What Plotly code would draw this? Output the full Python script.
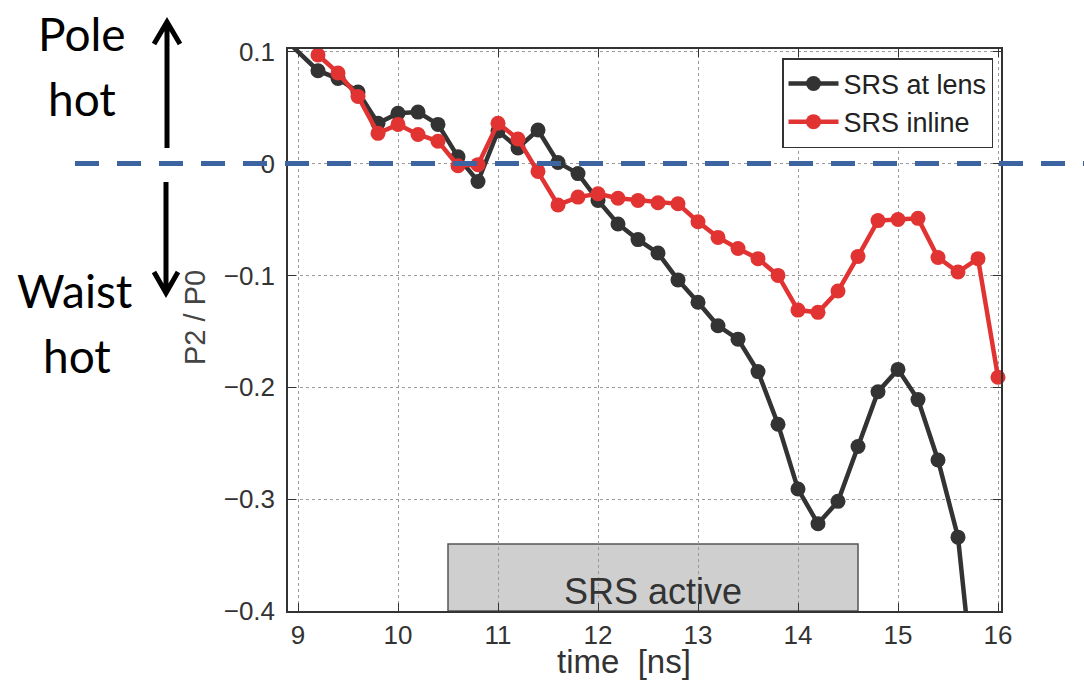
import plotly.graph_objects as go

# ---- data: P2/P0 asymmetry vs time ----
time_lens = [8.8, 9.2, 9.4, 9.6, 9.8, 10.0, 10.2, 10.4, 10.6, 10.8, 11.0, 11.2, 11.4,
             11.6, 11.8, 12.0, 12.2, 12.4, 12.6, 12.8, 13.0, 13.2, 13.4, 13.6,
             13.8, 14.0, 14.2, 14.4, 14.6, 14.8, 15.0, 15.2, 15.4, 15.6, 15.8]
p2_lens = [0.117, 0.083, 0.076, 0.064, 0.036, 0.045, 0.046, 0.035, 0.006, -0.016, 0.029,
           0.014, 0.030, 0.001, -0.009, -0.033, -0.054, -0.068, -0.080, -0.104,
           -0.124, -0.145, -0.157, -0.186, -0.233, -0.291, -0.322, -0.302, -0.253,
           -0.204, -0.184, -0.211, -0.265, -0.334, -0.505]

time_inline = [9.2, 9.4, 9.6, 9.8, 10.0, 10.2, 10.4, 10.6, 10.8, 11.0, 11.2, 11.4,
               11.6, 11.8, 12.0, 12.2, 12.4, 12.6, 12.8, 13.0, 13.2, 13.4, 13.6,
               13.8, 14.0, 14.2, 14.4, 14.6, 14.8, 15.0, 15.2, 15.4, 15.6, 15.8, 16.0]
p2_inline = [0.097, 0.081, 0.060, 0.027, 0.035, 0.026, 0.020, -0.002, -0.001, 0.036,
             0.022, -0.007, -0.037, -0.030, -0.027, -0.031, -0.033, -0.035, -0.036,
             -0.052, -0.066, -0.076, -0.085, -0.100, -0.131, -0.133, -0.114, -0.083,
             -0.051, -0.050, -0.049, -0.084, -0.097, -0.085, -0.191]

series_names = ["SRS at lens", "SRS inline"]

x_ticks = [9, 10, 11, 12, 13, 14, 15, 16]
x_ticktext = ["9", "10", "11", "12", "13", "14", "15", "16"]
y_ticks = [0.1, 0.0, -0.1, -0.2, -0.3, -0.4]
y_ticktext = ["0.1", "0", "\u22120.1", "\u22120.2", "\u22120.3", "\u22120.4"]

srs_window = [10.5, 14.6]     # time span where SRS is active
srs_box_top = -0.34

# ---- page geometry ----
W, H = 1084, 683
ML, MR, MT, MB = 288, 83, 49, 72
PW, PH = W - ML - MR, H - MT - MB


def px(xp):
    return (xp - ML) / PW


def py(yp):
    return 1 - (yp - MT) / PH


SANS = "Liberation Sans, Arial, Helvetica, sans-serif"
BLACK = "#333333"
RED = "#e23333"
TICK_FONT = dict(family=SANS, size=26, color="#333333")

fig = go.Figure()

fig.add_trace(go.Scatter(
    x=time_lens, y=p2_lens, name=series_names[0], mode="lines+markers",
    line=dict(color=BLACK, width=4.5),
    marker=dict(color=BLACK, size=15),
))
fig.add_trace(go.Scatter(
    x=time_inline, y=p2_inline, name=series_names[1], mode="lines+markers",
    line=dict(color=RED, width=4.5),
    marker=dict(color=RED, size=15),
    cliponaxis=False,
))

# shaded SRS-active window
fig.add_shape(type="rect", xref="x", yref="y",
              x0=srs_window[0], x1=srs_window[1], y0=-0.4, y1=srs_box_top,
              fillcolor="#cfcfcf", line=dict(color="#555555", width=1.5), layer="below")
fig.add_annotation(x=(srs_window[0] + srs_window[1]) / 2, y=-0.383, xref="x", yref="y",
                   text="SRS active", showarrow=False, yanchor="middle",
                   font=dict(family=SANS, size=36, color="#333333"))

# zero line extended across the page
fig.add_shape(type="line", xref="paper", yref="y", x0=px(75), x1=px(1084), y0=0, y1=0,
              line=dict(color="#3b64a0", width=5, dash="24px,18px"), layer="above")

# side labels
side_font = dict(family="Lato, Calibri, sans-serif", size=46, color="black")
for text, xp, yp in [("Pole", 82, 34), ("hot", 82, 98), ("Waist", 75, 290), ("hot", 77, 355)]:
    fig.add_annotation(x=px(xp), y=py(yp), xref="paper", yref="paper", text=text,
                       showarrow=False, font=side_font, xanchor="center", yanchor="middle")


def arrow_path(x, y_tail, y_tip, half_w, head_len):
    """Open-chevron arrow in page pixels, converted to paper coordinates."""
    d = 1 if y_tip > y_tail else -1
    shaft = f"M {px(x)},{py(y_tail)} L {px(x)},{py(y_tip)}"
    head = (f" M {px(x - half_w)},{py(y_tip - d * head_len)} L {px(x)},{py(y_tip)}"
            f" L {px(x + half_w)},{py(y_tip - d * head_len)}")
    return shaft + head


arrow_line = dict(color="black", width=5)
fig.add_shape(type="path", xref="paper", yref="paper",
              path=arrow_path(167, 148, 22, 13, 22), line=arrow_line)
fig.add_shape(type="path", xref="paper", yref="paper",
              path=arrow_path(166, 182, 293, 12, 21), line=arrow_line)

# axis titles
fig.add_annotation(x=px(195), y=py(318), xref="paper", yref="paper", text="P2 / P0",
                   textangle=-90, showarrow=False, xanchor="center", yanchor="middle",
                   font=dict(family=SANS, size=29, color="#444444"))
fig.add_annotation(x=px(624), y=py(661), xref="paper", yref="paper", text="time  [ns]",
                   showarrow=False, xanchor="center", yanchor="middle",
                   font=dict(family=SANS, size=33, color="#333333"))

axis_common = dict(showline=True, linecolor="#333333", linewidth=1.5, mirror="allticks",
                   ticks="inside", ticklen=8, tickwidth=1.2, tickcolor="#333333",
                   showgrid=True, gridcolor="#9a9a9a", griddash="dot", gridwidth=1,
                   zeroline=False, tickfont=TICK_FONT)

fig.update_xaxes(range=[8.9, 16.03], tickvals=x_ticks, ticktext=x_ticktext,
                 ticklabelstandoff=0, **axis_common)
fig.update_yaxes(range=[-0.4, 0.1024], tickvals=y_ticks, ticktext=y_ticktext,
                 ticklabelstandoff=6, **axis_common)

fig.update_layout(
    width=W, height=H,
    margin=dict(l=ML, r=MR, t=MT, b=MB, pad=0),
    paper_bgcolor="white", plot_bgcolor="white",
    showlegend=True,
    legend=dict(x=px(993), y=py(58), xanchor="right", yanchor="top",
                bgcolor="white", bordercolor="#333333", borderwidth=1.5,
                font=dict(family=SANS, size=27, color="#222222"),
                itemwidth=50, tracegroupgap=0),
)

fig.write_html("out.html")
